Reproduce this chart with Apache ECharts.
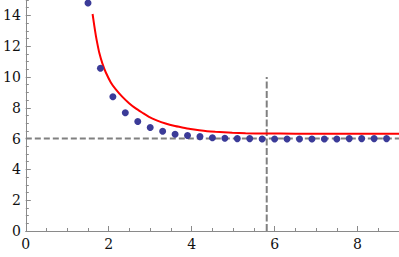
<!DOCTYPE html>
<html>
<head>
<meta charset="utf-8">
<script src="https://cdn.jsdelivr.net/npm/echarts@6/dist/echarts.min.js"></script>
<style>html,body{margin:0;padding:0;background:#fff}#c{width:399px;height:257px}</style>
</head>
<body>
<div id="c"></div>
<script>
var pointX = [1.5,1.8,2.1,2.4,2.7,3.0,3.3,3.6,3.9,4.2,4.5,4.8,5.1,5.4,5.7,6.0,6.3,6.6,6.9,7.2,7.5,7.8,8.1,8.4,8.7];
var pointY = [14.8,10.57,8.72,7.68,7.11,6.72,6.48,6.28,6.2,6.13,6.05,6.02,6.0,6.0,5.97,5.97,5.97,5.97,5.97,5.97,5.97,6.0,6.0,6.0,6.0];
var curveX = [1.61,1.65,1.69,1.73,1.77,1.85,1.93,2.05,2.17,2.33,2.49,2.65,2.81,2.97,3.17,3.37,3.57,3.77,3.97,4.18,4.37,4.57,4.78,4.98,5.3,5.78,6.5,7.5,8.5,9.0];
var curveY = [14.09,13.35,12.67,12.1,11.59,10.85,10.29,9.65,9.2,8.71,8.3,7.96,7.68,7.41,7.17,6.98,6.83,6.72,6.62,6.54,6.48,6.44,6.41,6.38,6.35,6.33,6.32,6.32,6.32,6.32];
var thresholdY = 6;
var markerX = 5.81;
var markerTop = 10;
var xMax = 9, yMax = 15;
var xMajorTicks = [0,2,4,6,8];
var yMajorTicks = [0,2,4,6,8,10,12,14];

var pts = pointX.map(function(x,i){return [x, pointY[i]];});
var curve = curveX.map(function(x,i){return [x, curveY[i]];});
var hLine = [[0, thresholdY],[xMax, thresholdY]];
var vLine = [[markerX, 0],[markerX, markerTop]];

var axisColor = '#8a8a8a';
var serif = 'DejaVu Serif';
var labelStyle = {margin:5, showMaxLabel:false, fontFamily:serif, fontSize:14, color:'#111'};
var chart = echarts.init(document.getElementById('c'), null, {renderer:'svg'});
chart.setOption({
  animation:false,
  grid:{left:23, right:0, top:0, bottom:26},
  xAxis:[{
    type:'value', min:0, max:xMax, interval:2,
    axisLine:{lineStyle:{color:axisColor,width:1}},
    axisTick:{show:true, inside:true, length:5, lineStyle:{color:axisColor}, customValues:xMajorTicks},
    axisLabel:Object.assign({}, labelStyle, {margin:6}),
    splitLine:{show:false}
  },{
    type:'value', min:0, max:xMax, interval:0.5, position:'bottom',
    axisLine:{show:false},
    axisTick:{show:true, inside:true, length:3, lineStyle:{color:axisColor}},
    axisLabel:{show:false},
    splitLine:{show:false}
  }],
  yAxis:[{
    type:'value', min:0, max:yMax, interval:2,
    axisLine:{show:true, lineStyle:{color:axisColor,width:1}},
    axisTick:{show:true, inside:true, length:5, lineStyle:{color:axisColor}, customValues:yMajorTicks},
    axisLabel:Object.assign({}, labelStyle),
    splitLine:{show:false}
  },{
    type:'value', min:0, max:yMax, interval:0.5, position:'left',
    axisLine:{show:false},
    axisTick:{show:true, inside:true, length:3, lineStyle:{color:axisColor}},
    axisLabel:{show:false},
    splitLine:{show:false}
  }],
  series:[
    {type:'line', data:hLine, symbol:'none', silent:true, z:1,
     lineStyle:{color:'#808080', width:2, type:[6,3]}},
    {type:'line', data:vLine, symbol:'none', silent:true, z:1,
     lineStyle:{color:'#808080', width:2, type:[7,2.5]}},
    {type:'line', data:curve, symbol:'none', smooth:0.2, z:2,
     lineStyle:{color:'#ff0000', width:2}},
    {type:'scatter', data:pts, symbol:'circle', symbolSize:7, z:3,
     itemStyle:{color:'#3b3b98', opacity:1}}
  ]
});
</script>
</body>
</html>
